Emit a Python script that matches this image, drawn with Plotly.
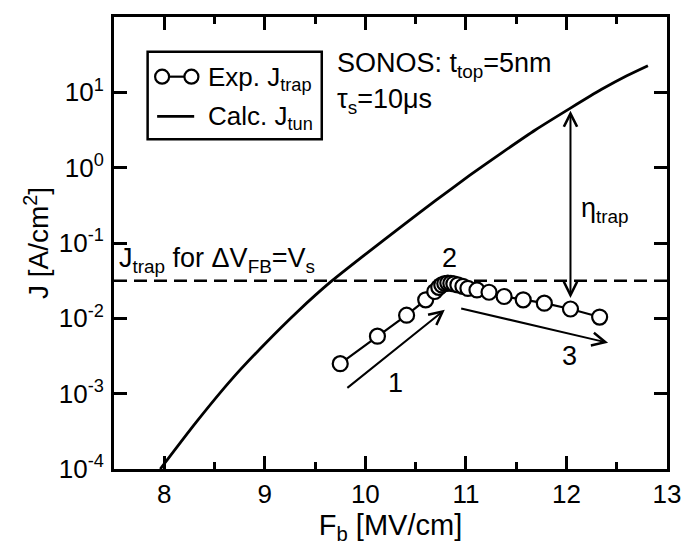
import numpy as np
import plotly.graph_objects as go

# Experimental trap-assisted current density J_trap vs. barrier field
fb_exp = [9.75, 10.12, 10.41, 10.60, 10.69, 10.73, 10.76, 10.79, 10.82, 10.85,
          10.88, 10.92, 10.97, 11.02, 11.11, 11.23, 11.38, 11.57, 11.78, 12.04, 12.33]
j_exp = [0.0025, 0.0058, 0.0110, 0.0176, 0.0227, 0.0258, 0.0278, 0.0290, 0.0294, 0.0292,
         0.0287, 0.0278, 0.0266, 0.0250, 0.0238, 0.0222, 0.0195, 0.0176, 0.0159, 0.0133, 0.0104]

# Calculated tunnelling current density J_tun
fb_calc = [7.96, 8.31, 8.67, 9.0, 9.33, 9.66, 10.0, 10.38, 10.7, 11.04,
           11.36, 11.69, 12.04, 12.35, 12.6, 12.81]
j_calc = [1.0e-4, 4.07e-4, 1.55e-3, 4.57e-3, 1.245e-2, 3.09e-2, 7.08e-2, 0.174, 0.367, 0.794,
          1.585, 3.16, 6.17, 10.96, 16.6, 22.6]

# J_trap level for dV_FB = V_s
j_level = 0.0316

# Axis ticks
x_ticks = [8, 9, 10, 11, 12, 13]
y_exps = [-4, -3, -2, -1, 0, 1, 2]
y_ticktext = ["10<sup>%d</sup>" % e for e in y_exps]

FONT = "Liberation Sans, Arial, Helvetica, sans-serif"
lg = np.log10

fig = go.Figure()

fig.add_trace(go.Scatter(
    x=[7.5, 13], y=[j_level, j_level], mode="lines",
    line=dict(color="black", width=2.6, dash="13px,7px"),
    showlegend=False, hoverinfo="skip"))

fig.add_trace(go.Scatter(
    x=fb_calc, y=j_calc, mode="lines",
    line=dict(color="black", width=2.8, shape="spline", smoothing=0.6),
    showlegend=False))

fig.add_trace(go.Scatter(
    x=fb_exp, y=j_exp, mode="lines+markers",
    line=dict(color="black", width=2.2),
    marker=dict(symbol="circle", size=15, color="white",
                line=dict(color="black", width=2.2)),
    showlegend=False))

axis_common = dict(
    showline=True, linecolor="black", linewidth=3, mirror="allticks",
    ticks="inside", tickcolor="black", tickwidth=2.5, ticklen=13,
    showgrid=False, zeroline=False,
    tickfont=dict(family=FONT, size=26, color="black"),
)

fig.update_xaxes(
    range=[7.5, 13], tickvals=x_ticks,
    minor=dict(ticks="inside", dtick=0.5, tick0=7.5, ticklen=7, tickwidth=2.5,
               tickcolor="black", showgrid=False),
    title=dict(text="F<sub>b</sub> [MV/cm]", font=dict(family=FONT, size=29, color="black"),
               standoff=4),
    **axis_common)

fig.update_yaxes(
    type="log", range=[-4, 2], tickvals=[10.0 ** e for e in y_exps], ticktext=y_ticktext,
    ticklabelstandoff=2,
    title=dict(text="J [A/cm<sup>2</sup>]", font=dict(family=FONT, size=28, color="black"),
               standoff=2),
    **axis_common)

ann = []

# Arrows (annotation coordinates on the log axis are log10 values)
def arrow(x0, y0, x1, y1, both=False):
    d = dict(x=x1, y=lg(y1), ax=x0, ay=lg(y0), xref="x", yref="y", axref="x", ayref="y",
             text="", showarrow=True, arrowhead=5, arrowsize=1.3, arrowwidth=2,
             arrowcolor="black", standoff=0, startstandoff=0)
    if both:
        d.update(arrowside="end+start", startarrowhead=5, startarrowsize=1.3)
    return d

ann.append(arrow(12.04, 0.0178, 12.04, 5.7, both=True))
ann.append(arrow(9.806, 1.15e-3, 10.79, 0.013))
ann.append(arrow(10.938, 0.01368, 12.414, 0.00473))

# Region labels
for lbl, xx, yy in [("1", 10.30, 1.40e-3), ("2", 10.84, 0.0624), ("3", 12.03, 3.16e-3)]:
    ann.append(dict(x=xx, y=lg(yy), xref="x", yref="y", text=lbl, showarrow=False,
                    font=dict(family=FONT, size=27, color="black")))

def ptxt(text, x, y, size=27):
    return dict(x=x, y=y, xref="paper", yref="paper", text=text, showarrow=False,
                xanchor="left", yanchor="middle",
                font=dict(family=FONT, size=size, color="black"))

ann.append(ptxt("SONOS: t<sub>top</sub>=5nm", 0.400, 0.893))
ann.append(ptxt("τ<sub>s</sub>=10μs", 0.400, 0.815))
ann.append(ptxt("J<sub>trap</sub> for ΔV<sub>FB</sub>=V<sub>s</sub>", 0.006, 0.463))
ann.append(ptxt("η<sub>trap</sub>", 0.840, 0.572))

# Legend box contents
ann.append(ptxt("Exp. J<sub>trap</sub>", 0.166, 0.864, size=26))
ann.append(ptxt("Calc. J<sub>tun</sub>", 0.166, 0.778, size=26))

shapes = [
    dict(type="rect", xref="paper", yref="paper", x0=0.0608, x1=0.3757, y0=0.7297, y1=0.923,
         line=dict(color="black", width=2.5), fillcolor="white", layer="above"),
    dict(type="line", xref="paper", yref="paper", x0=0.087, x1=0.140, y0=0.868, y1=0.868,
         line=dict(color="black", width=2.2), layer="above"),
    dict(type="line", xref="paper", yref="paper", x0=0.078, x1=0.145, y0=0.780, y1=0.780,
         line=dict(color="black", width=2.8), layer="above"),
]
for cx in (0.087, 0.140):
    shapes.append(dict(type="circle", xref="paper", yref="paper",
                       xsizemode="pixel", ysizemode="pixel", xanchor=cx, yanchor=0.868,
                       x0=-7, x1=7, y0=-7, y1=7,
                       line=dict(color="black", width=2.2), fillcolor="white", layer="above"))

fig.update_layout(
    width=693, height=546,
    margin=dict(l=114, r=20, t=17, b=74),
    paper_bgcolor="white", plot_bgcolor="white",
    showlegend=False,
    annotations=ann, shapes=shapes,
    font=dict(family=FONT, color="black"),
)

fig.write_html("out.html")
